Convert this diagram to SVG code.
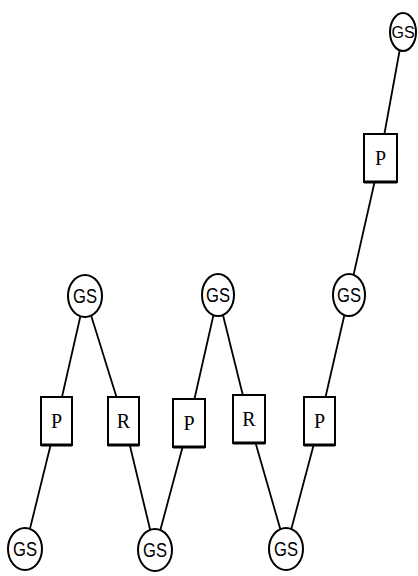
<svg xmlns="http://www.w3.org/2000/svg" width="418" height="576" viewBox="0 0 418 576">
<style>
.gs ellipse{fill:#fff;stroke:#000;stroke-width:2}
.bx rect{fill:#fff;stroke:#000;stroke-width:2}
.bx line{stroke:#000;stroke-width:3}
.gt{font-family:"Liberation Sans",Arial,sans-serif;font-size:20px;text-anchor:middle}
.bt{font-family:"Liberation Serif","Times New Roman",serif;font-size:20px;text-anchor:middle}
#edges line{stroke:#000;stroke-width:1.8}
</style>
<rect width="418" height="576" fill="#fff"/>
<g id="edges">
<line x1="25" y1="549" x2="56.5" y2="421"/>
<line x1="56.5" y1="421" x2="85" y2="296"/>
<line x1="85" y1="296" x2="124" y2="421"/>
<line x1="124" y1="421" x2="155" y2="550"/>
<line x1="155" y1="550" x2="189" y2="423"/>
<line x1="189" y1="423" x2="218" y2="295"/>
<line x1="218" y1="295" x2="249" y2="420"/>
<line x1="249" y1="420" x2="286" y2="549"/>
<line x1="286" y1="549" x2="320" y2="421"/>
<line x1="320" y1="421" x2="349" y2="295"/>
<line x1="349" y1="295" x2="380" y2="158"/>
<line x1="380" y1="158" x2="403" y2="32"/>
</g>
<g id="gs1" class="gs"><ellipse cx="25" cy="549" rx="17" ry="21"/><text class="gt" x="25" y="556" textLength="24" lengthAdjust="spacingAndGlyphs">GS</text></g>
<g id="gs2" class="gs"><ellipse cx="85" cy="296" rx="17" ry="21"/><text class="gt" x="85" y="303" textLength="24" lengthAdjust="spacingAndGlyphs">GS</text></g>
<g id="gs3" class="gs"><ellipse cx="155" cy="550" rx="17" ry="21"/><text class="gt" x="155" y="557" textLength="24" lengthAdjust="spacingAndGlyphs">GS</text></g>
<g id="gs4" class="gs"><ellipse cx="218" cy="295" rx="16" ry="21"/><text class="gt" x="218" y="302" textLength="24" lengthAdjust="spacingAndGlyphs">GS</text></g>
<g id="gs5" class="gs"><ellipse cx="286" cy="549" rx="17" ry="21"/><text class="gt" x="286" y="556" textLength="24" lengthAdjust="spacingAndGlyphs">GS</text></g>
<g id="gs6" class="gs"><ellipse cx="349" cy="295" rx="16" ry="21"/><text class="gt" x="349" y="302" textLength="24" lengthAdjust="spacingAndGlyphs">GS</text></g>
<g id="gs7" class="gs"><ellipse cx="403" cy="32" rx="13" ry="19"/><text class="gt" x="403" y="38" style="font-size:16px">GS</text></g>
<g id="p1" class="bx"><rect x="41" y="397" width="31" height="48"/><line x1="41" y1="445" x2="72" y2="445"/><text class="bt" x="56.5" y="428">P</text></g>
<g id="r1" class="bx"><rect x="108" y="397" width="31" height="48"/><line x1="108" y1="445" x2="139" y2="445"/><text class="bt" x="123.5" y="428">R</text></g>
<g id="p2" class="bx"><rect x="173" y="399" width="32" height="48"/><line x1="173" y1="447" x2="205" y2="447"/><text class="bt" x="189" y="430">P</text></g>
<g id="r2" class="bx"><rect x="233" y="395" width="32" height="48"/><line x1="233" y1="443" x2="265" y2="443"/><text class="bt" x="249" y="426">R</text></g>
<g id="p3" class="bx"><rect x="304" y="397" width="31" height="48"/><line x1="304" y1="445" x2="335" y2="445"/><text class="bt" x="319.5" y="428">P</text></g>
<g id="p4" class="bx"><rect x="364" y="134" width="33" height="48"/><line x1="364" y1="182" x2="397" y2="182"/><text class="bt" x="380.5" y="165">P</text></g>
</svg>
